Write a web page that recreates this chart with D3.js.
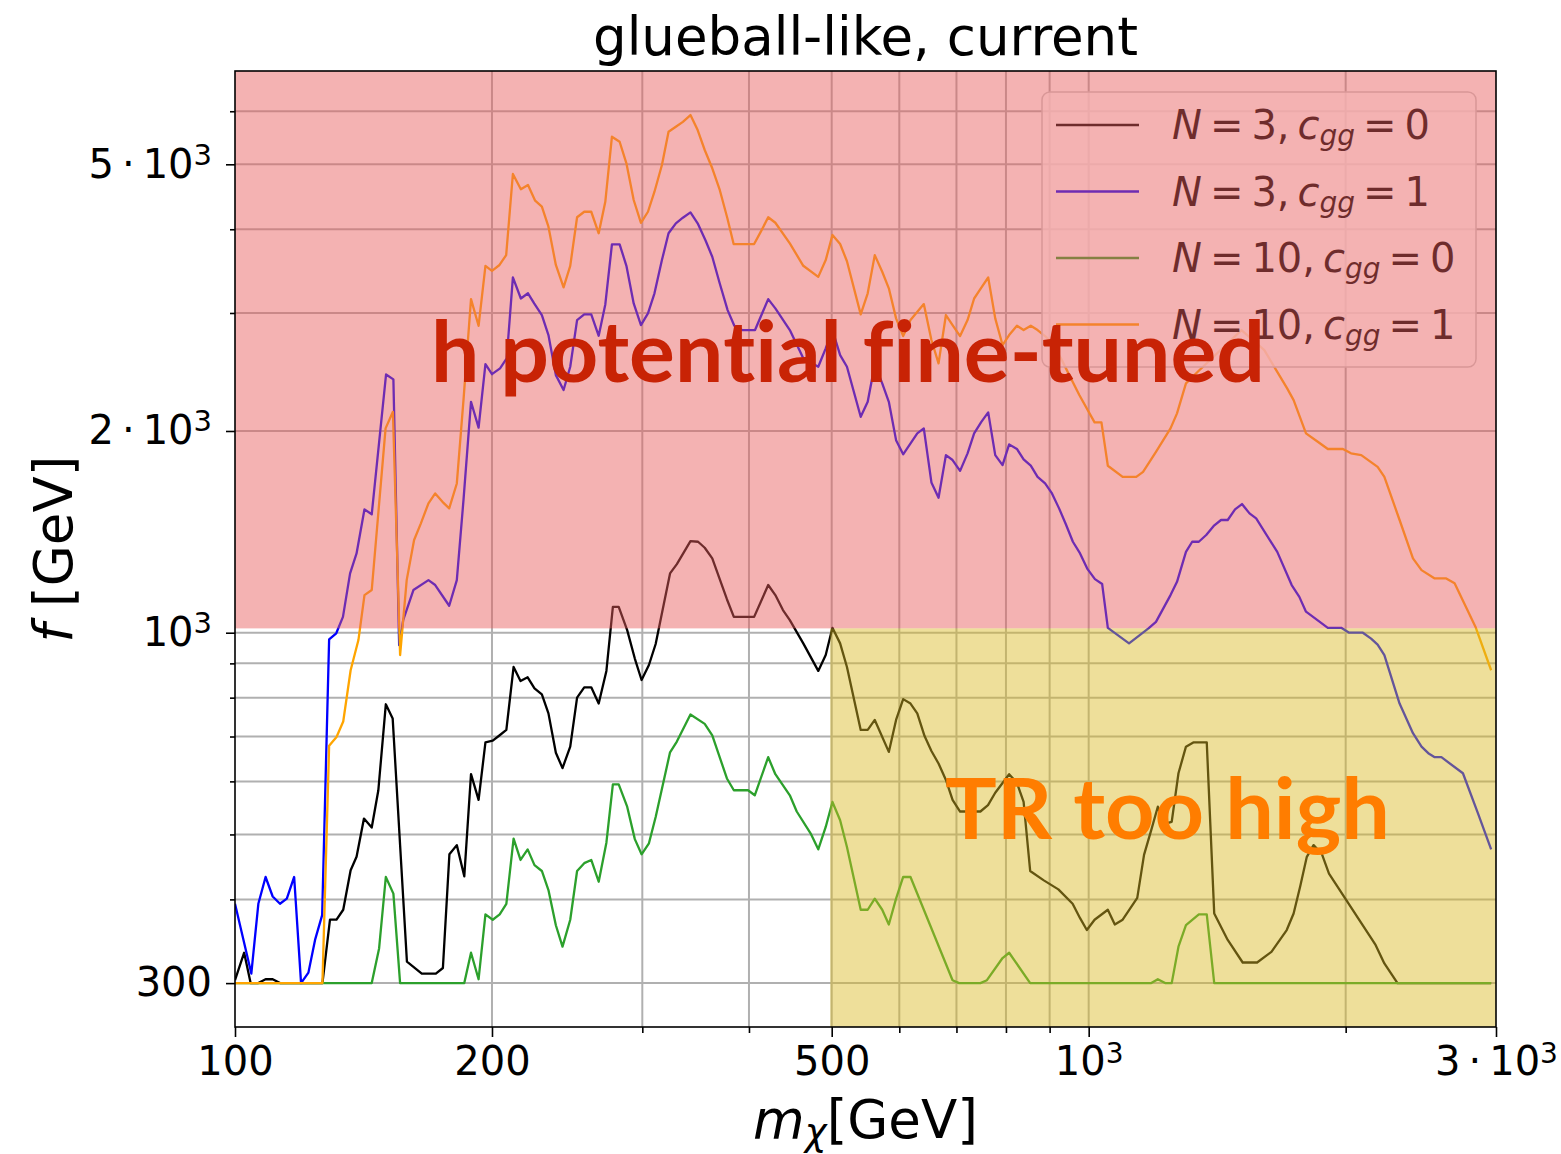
<!DOCTYPE html>
<html>
<head>
<meta charset="utf-8">
<title>glueball-like, current</title>
<script src="https://cdn.jsdelivr.net/npm/d3@7"></script>
<style>
  body { margin: 0; background: #fff; }
  #chart svg { display: block; }
  text { white-space: pre; }
  .caption { font-variant-ligatures: none; font-feature-settings: "liga" 0, "clig" 0, "dlig" 0; }
</style>
</head>
<body>
<div id="chart"></div>
<script>
/* glueball-like, current : f vs m_chi on log-log axes, with two shaded regions */

// curves as [m_chi (GeV), f (GeV)]
const curveN3c0 = [
    [100,303],[102.5,333],[104.3,300],[106.5,300],[108.6,304],[110.7,304],[112.9,300],[126.6,300],
    [129.2,373],[131.5,373],[133.9,386],[136.6,442],[138.8,463],[141.6,528],[144.6,512],[147.2,582],
    [150.2,782],[153,745],[159,323],[165.5,310],[171.9,310],[175.2,316],[178.3,467],[181.9,482],
    [185.6,433],[189,615],[192.9,563],[196.5,686],[200.4,690],[204.2,703],[207.9,716],[212,889],
    [216,847],[220.2,858],[224.3,826],[228.8,809],[232.9,758],[237.6,662],[241.9,628],[247,676],
    [251.6,800],[256.5,829],[261.4,829],[266.7,784],[272.3,877],[277.1,1093],[281.5,1093],[288,1009],
    [294,915],[299.4,850],[305.4,895],[311,962],[323.3,1226],[329.3,1266],[341.6,1370],[348.7,1367],
    [355,1339],[362.3,1291],[376.9,1122],[384,1056],[405.6,1056],[421.3,1178],[429.5,1138],[438.4,1081],
    [446.6,1044],[463.1,964],[482.2,877],[492,926],[501,1017],[511.5,964],[521,889],[540.7,716],
    [551,716],[561.6,741],[583.3,664],[594.8,741],[606.3,796],[618.4,784],[629.8,758],[642.3,701],
    [654.3,666],[667,638],[680.4,603],[692.7,563],[706.9,541],[746.7,541],[762.2,553],[777.2,577],
    [806.9,615],[824,597],[839,559],[854,441],[886,427],[921.5,414],[957.6,394],[977,375],
    [995,360],[1016,373],[1053,386],[1073,367],[1096,373],[1140,402],[1161,466],[1184,508],
    [1205,550],[1229,519],[1251,522],[1274,617],[1300,676],[1326,686],[1375,686],[1403,381],
    [1455,348],[1515,322],[1575,322],[1637,334],[1706,360],[1738,381],[1769,418],[1801,463],
    [1834,482],[1875,468],[1912,437],[2168,342],[2220,321],[2300,300],[2961,300]
];

const curveN3c1 = [
    [100,394],[104.5,310],[106.5,394],[108.6,432],[110.7,404],[112.9,394],[115,401],[117.3,432],
    [119.5,300],[121.9,311],[124.1,348],[126.5,379],[128.9,977],[131.4,998],[133.8,1056],[136.4,1226],
    [138.8,1313],[141.8,1528],[144.6,1502],[150.3,2429],[153.3,2388],[155.7,958],[157.4,1044],[161.8,1158],
    [168.5,1198],[171.6,1178],[178.2,1097],[181.9,1198],[185.2,1577],[189,2211],[192.9,2023],[196.5,2516],
    [200,2431],[204.4,2480],[208.1,2567],[211.6,3390],[216.2,3153],[220.4,3210],[224.1,3100],[228.8,2979],
    [232.9,2781],[237.6,2423],[242.6,2302],[247,2494],[251.6,2928],[256.5,2986],[261.4,2986],[266.7,2774],
    [271.5,3089],[276.4,3798],[282.2,3798],[287.4,3528],[293.1,3100],[298.9,2878],[304.6,2996],[310,3210],
    [316.3,3598],[322,3945],[328.4,4082],[334.7,4162],[341.6,4239],[348.3,4082],[355.7,3851],[362.3,3639],
    [369.7,3320],[377.6,3030],[384.5,2871],[392.6,2829],[406.6,2829],[421.3,3146],[429.5,3048],[446.6,2829],
    [463.1,2567],[482.2,2494],[492,2657],[501,2829],[511.5,2596],[521,2494],[540.7,2100],[551,2211],
    [561.6,2514],[573,2355],[583.3,2211],[594.8,1938],[606.3,1846],[629.8,1984],[641,2018],[654.3,1676],
    [667,1590],[680.4,1841],[692.7,1810],[706.9,1744],[721.3,1852],[734.2,1984],[748.6,2064],[762.6,2132],
    [777.2,1841],[792.7,1779],[806.9,1910],[824,1880],[839,1814],[855.4,1775],[871.2,1708],[889.1,1670],
    [904.9,1617],[923.2,1533],[940,1453],[958.3,1367],[977,1313],[997,1244],[1017,1202],[1037,1182],
    [1053,1017],[1115,964],[1175,1015],[1199,1038],[1247,1138],[1269,1191],[1300,1320],[1322,1367],
    [1346,1367],[1373,1399],[1401,1443],[1429,1473],[1455,1473],[1484,1528],[1512,1556],[1543,1507],
    [1571,1481],[1663,1320],[1729,1178],[1765,1131],[1797,1075],[1906,1017],[1976,1017],[2019,1000],
    [2095,1000],[2142,980],[2180,960],[2220,926],[2313,784],[2398,708],[2454,676],[2499,661],
    [2543,652],[2589,652],[2744,617],[2857,538],[2961,475]
];

const curveN10c0 = [
    [100,300],[144.6,300],[147.5,338],[150.2,432],[153.3,408],[156.1,300],[185.6,300],[189,333],
    [192.9,304],[196.5,380],[200.4,373],[204.2,380],[207.9,394],[212,493],[216,458],[220.2,475],
    [224.3,450],[228.8,441],[232.9,413],[237.6,366],[241.9,340],[247,373],[251.6,441],[256.5,453],
    [261.4,458],[266.7,425],[272.3,486],[277.1,594],[281.5,594],[288,550],[294,492],[299.4,467],
    [305.4,485],[311,531],[323.3,663],[329.3,688],[341.6,755],[355,731],[362.3,703],[376.9,606],
    [384,582],[399,582],[406.3,572],[421.3,652],[429.5,615],[446.6,572],[455,541],[472.3,502],
    [482.2,475],[492,513],[501,559],[511.5,525],[521,479],[540.7,386],[551,386],[561.6,401],
    [573,386],[583.3,367],[594.8,401],[606.3,432],[618.4,432],[692.7,303],[705,300],[746.7,300],
    [760,303],[792.7,327],[806.9,333],[854,300],[1184,300],[1205,304],[1229,300],[1251,300],
    [1274,340],[1300,366],[1346,380],[1375,380],[1403,300],[2961,300]
];

const curveN10c1 = [
    [100,300],[126.6,300],[128.9,678],[131.5,699],[133.9,737],[136.6,879],[139.5,975],[141.8,1138],
    [144.6,1158],[150.1,2018],[153.1,2136],[156.1,926],[158.9,1198],[162.1,1375],[165.1,1456],[168.5,1560],
    [171.6,1614],[175,1568],[178.2,1533],[181.9,1670],[185.2,2224],[189,3146],[192.9,2871],[196.5,3528],
    [200,3468],[204.1,3538],[207.8,3660],[211.6,4836],[216.2,4589],[220.4,4657],[224.7,4413],[228.8,4324],
    [232.9,4035],[237.6,3538],[242.6,3276],[247,3528],[251.6,4168],[256.5,4248],[261.4,4248],[266.7,3945],
    [271.5,4396],[276.4,5497],[282.2,5403],[287.4,5017],[293.1,4423],[298.9,4090],[304.6,4248],[310,4551],
    [316.3,4988],[322,5592],[328.4,5688],[334.7,5786],[341.6,5922],[348.3,5625],[355,5252],[362.3,4932],
    [369.7,4578],[377.3,4157],[383.8,3802],[405.6,3802],[413,3967],[421.3,4168],[429.5,4090],[446.6,3811],
    [463.1,3528],[482.2,3396],[492,3598],[501,3922],[511.5,3802],[521,3584],[540.7,2986],[551,3210],
    [561.6,3660],[573,3457],[583.3,3265],[594.8,2945],[606.3,2771],[618.4,2928],[641,3093],[654.3,2734],
    [667,2523],[680.4,2979],[692.7,2878],[706.9,2771],[721.3,2928],[734.2,3153],[748.6,3272],[762.6,3389],
    [777.2,2945],[792.7,2687],[806.9,2781],[824,2871],[839,2829],[855.4,2871],[871.2,2829],[889,2771],
    [905,2715],[927.6,2569],[957.6,2369],[975,2263],[1016,2060],[1035,2060],[1053,1775],[1096,1708],
    [1137,1708],[1158,1738],[1199,1862],[1247,2018],[1269,2125],[1300,2355],[1342,2451],[1510,2829],
    [1606,2640],[1663,2451],[1708,2315],[1738,2224],[1797,1984],[1855,1927],[1906,1880],[1985,1880],
    [2029,1852],[2086,1841],[2180,1768],[2220,1708],[2313,1473],[2398,1291],[2454,1240],[2543,1205],
    [2623,1205],[2683,1185],[2838,1021],[2961,879]
];

const seriesN = ['3', '3', '10', '10'];
const seriesCgg = ['0', '1', '0', '1'];
const seriesColors = ['#000000', '#0000ff', '#2ca02c', '#ffa500'];

const xTicks = [100, 200, 500, 1000, 3000];
const xTickLabels = ['100', '200', '500', '10^3', '3\u2009\u00b7\u200910^3'];
const xMinorTicks = [300, 400, 600, 700, 800, 900, 2000];
const yTicks = [300, 1000, 2000, 5000];
const yTickLabels = ['300', '10^3', '2\u2009\u00b7\u200910^3', '5\u2009\u00b7\u200910^3'];
const yMinorTicks = [400, 500, 600, 700, 800, 900, 3000, 4000, 6000];

const xDomain = [100, 3000];
const yDomain = [258, 6890];

// shaded regions laid over the plot
const fineTunedFrom = 1015;   // f above this -> "h potential fine-tuned"
const trHighFrom = 498;       // m above this (below fineTunedFrom) -> "TR too high"

const W = 1561, H = 1154;
const margin = {top: 71, right: 65, bottom: 127, left: 235};
const font = '"DejaVu Sans", sans-serif';

const svg = d3.select('#chart').append('svg')
    .attr('width', W)
    .attr('height', H)
    .style('font-family', font);

const x = d3.scaleLog().domain(xDomain).range([margin.left, W - margin.right]);
const y = d3.scaleLog().domain(yDomain).range([H - margin.bottom, margin.top]);

svg.append('defs').append('clipPath').attr('id', 'plot-clip')
    .append('rect')
    .attr('x', margin.left).attr('y', margin.top)
    .attr('width', W - margin.left - margin.right)
    .attr('height', H - margin.top - margin.bottom);

// grid, major + minor
const grid = svg.append('g').attr('stroke', '#b0b0b0').attr('stroke-width', 2);
grid.selectAll('line.gx')
    .data(xTicks.concat(xMinorTicks).filter(v => v > xDomain[0] && v < xDomain[1]))
    .join('line').attr('class', 'gx')
    .attr('x1', d => x(d)).attr('x2', d => x(d))
    .attr('y1', margin.top).attr('y2', H - margin.bottom);
grid.selectAll('line.gy')
    .data(yTicks.concat(yMinorTicks))
    .join('line').attr('class', 'gy')
    .attr('y1', d => y(d)).attr('y2', d => y(d))
    .attr('x1', margin.left).attr('x2', W - margin.right);

// curves
const line = d3.line().x(d => x(d[0])).y(d => y(d[1]));
const curves = [curveN3c0, curveN3c1, curveN10c0, curveN10c1];
svg.append('g').attr('clip-path', 'url(#plot-clip)')
    .selectAll('path')
    .data(curves)
    .join('path')
    .attr('d', line)
    .attr('fill', 'none')
    .attr('stroke', (d, i) => seriesColors[i])
    .attr('stroke-width', 2.3)
    .attr('stroke-linejoin', 'round');

// legend
const legend = svg.append('g').attr('font-size', 40);
legend.append('rect')
    .attr('x', 1042).attr('y', 92).attr('width', 434).attr('height', 275).attr('rx', 8)
    .attr('fill', '#fff').attr('fill-opacity', 0.8)
    .attr('stroke', '#cccccc').attr('stroke-width', 1.5);
seriesN.forEach((n, i) => {
    const cy = 125 + i * 66.5;
    legend.append('line')
        .attr('x1', 1056).attr('x2', 1139).attr('y1', cy).attr('y2', cy)
        .attr('stroke', seriesColors[i]).attr('stroke-width', 2.3);
    const t = legend.append('text').attr('x', 1172).attr('y', cy + 14);
    t.append('tspan').attr('font-style', 'italic').text('N');
    t.append('tspan').text('\u2009=\u2009' + n + ',\u2009');
    t.append('tspan').attr('font-style', 'italic').text('c');
    t.append('tspan').attr('font-style', 'italic').attr('font-size', 28).attr('dy', 6).text('gg');
    t.append('tspan').attr('dy', -6).text('\u2009=\u2009' + seriesCgg[i]);
});

// shaded regions
svg.append('rect')
    .attr('x', x(xDomain[0])).attr('y', y(yDomain[1]))
    .attr('width', x(xDomain[1]) - x(xDomain[0]))
    .attr('height', y(fineTunedFrom) - y(yDomain[1]))
    .attr('fill', 'rgb(232,93,93)').attr('fill-opacity', 0.475);
svg.append('rect')
    .attr('x', x(trHighFrom)).attr('y', y(fineTunedFrom))
    .attr('width', x(xDomain[1]) - x(trHighFrom))
    .attr('height', y(yDomain[0]) - y(fineTunedFrom))
    .attr('fill', 'rgb(217,185,35)').attr('fill-opacity', 0.46);

// axes
function supLabel(sel, labels, raise, supSize) {
    sel.selectAll('.tick text').each(function(d, i) {
        const parts = labels[i].split('^');
        const t = d3.select(this).text(null);
        t.append('tspan').text(parts[0]);
        if (parts[1]) t.append('tspan').attr('dy', -raise).attr('font-size', supSize).text(parts[1]);
    });
}

const xAxis = svg.append('g')
    .attr('transform', `translate(0,${H - margin.bottom})`)
    .call(d3.axisBottom(x).tickValues(xTicks).tickSize(10).tickSizeOuter(0).tickPadding(10));
supLabel(xAxis, xTickLabels, 12, 28);
svg.append('g')
    .attr('transform', `translate(0,${H - margin.bottom})`)
    .call(d3.axisBottom(x).tickValues(xMinorTicks).tickSize(6).tickSizeOuter(0).tickFormat(''));

const yAxis = svg.append('g')
    .attr('transform', `translate(${margin.left},0)`)
    .call(d3.axisLeft(y).tickValues(yTicks).tickSize(9).tickSizeOuter(0).tickPadding(14));
supLabel(yAxis, yTickLabels, 13, 29);
svg.append('g')
    .attr('transform', `translate(${margin.left},0)`)
    .call(d3.axisLeft(y).tickValues(yMinorTicks).tickSize(5).tickSizeOuter(0).tickFormat(''));

svg.selectAll('.domain').remove();
svg.selectAll('.tick line').attr('stroke', '#000').attr('stroke-width', 1.6);
svg.selectAll('.tick text').attr('font-size', 40).attr('font-family', font).attr('fill', '#000');

// frame
svg.append('rect')
    .attr('x', margin.left).attr('y', margin.top)
    .attr('width', W - margin.left - margin.right)
    .attr('height', H - margin.top - margin.bottom)
    .attr('fill', 'none').attr('stroke', '#000').attr('stroke-width', 1.6);

// title and axis labels
svg.append('text')
    .attr('x', (margin.left + W - margin.right) / 2).attr('y', 55)
    .attr('text-anchor', 'middle').attr('font-size', 53)
    .text('glueball-like, current');

const xl = svg.append('text')
    .attr('x', (margin.left + W - margin.right) / 2).attr('y', 1138)
    .attr('text-anchor', 'middle').attr('font-size', 53);
xl.append('tspan').attr('font-style', 'italic').text('m');
xl.append('tspan').attr('font-style', 'italic').attr('font-size', 37).attr('dy', 7).text('\u03c7');
xl.append('tspan').attr('dy', -7).text('[GeV]');

const yl = svg.append('text')
    .attr('transform', `translate(72,${(margin.top + H - margin.bottom) / 2}) rotate(-90)`)
    .attr('text-anchor', 'middle').attr('font-size', 53);
yl.append('tspan').attr('font-style', 'italic').text('f');
yl.append('tspan').text(' [GeV]');

// region captions (zero-width non-joiners keep "ti" / "fi" as separate letters)
svg.append('text')
    .attr('class', 'caption')
    .attr('x', 431).attr('y', 382)
    .attr('font-family', 'Lato, "Open Sans", sans-serif').attr('font-weight', 'bold').attr('font-size', 84)
    .attr('textLength', 834).attr('lengthAdjust', 'spacingAndGlyphs')
    .attr('fill', '#c82305')
    .text('h poten\u200ctial f\u200cine-tuned');
svg.append('text')
    .attr('class', 'caption')
    .attr('x', 945).attr('y', 839)
    .attr('font-family', 'Lato, "Open Sans", sans-serif').attr('font-weight', 'bold').attr('font-size', 84)
    .attr('textLength', 445).attr('lengthAdjust', 'spacingAndGlyphs')
    .attr('fill', '#ff7d00')
    .text('TR too high');
</script>
</body>
</html>
